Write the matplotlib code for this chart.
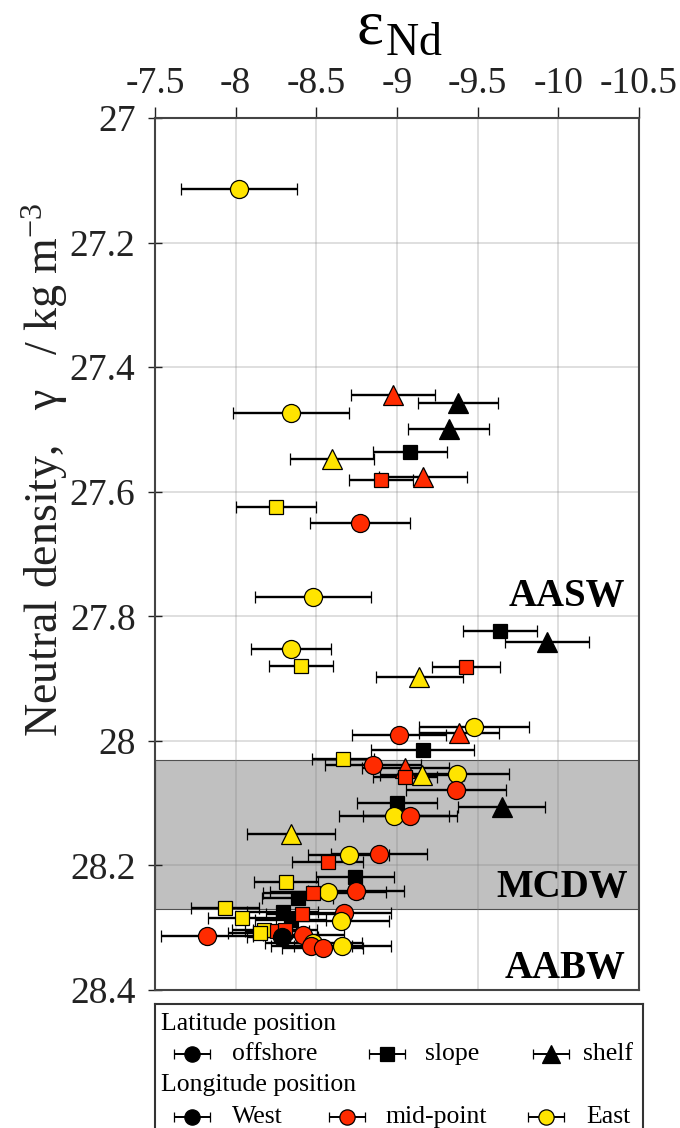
import matplotlib
matplotlib.use("Agg")
import matplotlib.pyplot as plt
import numpy as np

plt.rcParams['font.family'] = ['Liberation Serif', 'DejaVu Serif']
plt.rcParams['mathtext.fontset'] = 'custom'
plt.rcParams['mathtext.rm'] = 'Liberation Serif'
plt.rcParams['mathtext.it'] = 'Liberation Serif:italic'
plt.rcParams['axes.unicode_minus'] = False

# Nd isotope composition, its 2-sigma uncertainty and neutral density of each sample
eps_nd = [-8.02, -8.975, -9.378, -8.343, -9.32, -9.08, -8.597, -8.90, -9.161,
          -8.25, -8.771, -8.479, -9.638, -9.93, -8.343, -8.405, -9.43, -9.137,
          -9.477, -9.384, -9.012, -9.16, -8.666, -8.851, -9.05, -9.05, -9.155,
          -9.372, -9.366, -9.0, -9.65, -8.98, -9.08, -8.343, -8.888, -8.70,
          -8.572, -8.74, -8.312, -8.746, -8.572, -8.48, -8.386, -7.934, -8.293,
          -8.34, -8.41, -8.67, -8.04, -8.653, -7.822, -8.175, -8.15, -8.256,
          -8.306, -8.29, -8.42, -8.48, -8.47, -8.54, -8.66]
eps_err = [0.36, 0.26, 0.25, 0.36, 0.25, 0.23, 0.26, 0.20, 0.27,
           0.25, 0.31, 0.36, 0.23, 0.26, 0.25, 0.20, 0.21, 0.27,
           0.34, 0.25, 0.29, 0.32, 0.19, 0.30, 0.27, 0.20, 0.26,
           0.32, 0.31, 0.25, 0.27, 0.34, 0.29, 0.27, 0.30, 0.25,
           0.22, 0.24, 0.20, 0.30, 0.36, 0.31, 0.22, 0.21, 0.22,
           0.22, 0.22, 0.29, 0.21, 0.30, 0.285, 0.20, 0.20, 0.20,
           0.20, 0.22, 0.25, 0.30, 0.25, 0.25, 0.30]
gamma_n = [27.114, 27.445, 27.457, 27.474, 27.500, 27.536, 27.547, 27.581, 27.577,
           27.624, 27.650, 27.769, 27.823, 27.841, 27.852, 27.880, 27.881, 27.897,
           27.978, 27.987, 27.990, 28.014, 28.029, 28.039, 28.043, 28.058, 28.055,
           28.053, 28.079, 28.100, 28.106, 28.120, 28.120, 28.150, 28.181, 28.184,
           28.194, 28.218, 28.226, 28.241, 28.242, 28.245, 28.252, 28.268, 28.274,
           28.288, 28.278, 28.276, 28.284, 28.289, 28.313, 28.303, 28.308, 28.306,
           28.303, 28.315, 28.312, 28.324, 28.330, 28.332, 28.329]
lat_pos = ['offshore', 'shelf', 'shelf', 'offshore', 'shelf', 'slope', 'shelf', 'slope', 'shelf',
           'slope', 'offshore', 'offshore', 'slope', 'shelf', 'offshore', 'slope', 'slope', 'shelf',
           'offshore', 'shelf', 'offshore', 'slope', 'slope', 'offshore', 'shelf', 'slope', 'shelf',
           'offshore', 'offshore', 'slope', 'shelf', 'offshore', 'offshore', 'shelf', 'offshore', 'offshore',
           'slope', 'slope', 'slope', 'offshore', 'offshore', 'slope', 'slope', 'slope', 'slope',
           'slope', 'slope', 'offshore', 'slope', 'offshore', 'offshore', 'slope', 'slope', 'slope',
           'slope', 'offshore', 'offshore', 'offshore', 'offshore', 'offshore', 'offshore']
lon_pos = ['East', 'mid', 'West', 'East', 'West', 'West', 'East', 'mid', 'mid',
           'East', 'mid', 'East', 'West', 'West', 'East', 'East', 'mid', 'East',
           'East', 'mid', 'mid', 'West', 'East', 'mid', 'mid', 'mid', 'East',
           'East', 'mid', 'West', 'West', 'East', 'mid', 'East', 'mid', 'East',
           'mid', 'West', 'East', 'mid', 'East', 'mid', 'West', 'East', 'West',
           'West', 'mid', 'mid', 'East', 'East', 'mid', 'East', 'East', 'mid',
           'mid', 'West', 'mid', 'East', 'mid', 'mid', 'East']

water_masses = ['AASW', 'MCDW', 'AABW']
mcdw_range = (28.03, 28.27)

x_ticks = [-7.5, -8, -8.5, -9, -9.5, -10, -10.5]
y_ticks = [27, 27.2, 27.4, 27.6, 27.8, 28, 28.2, 28.4]

marker_of = {'offshore': 'o', 'slope': 's', 'shelf': '^'}
size_of = {'offshore': 13, 'slope': 10.5, 'shelf': 14.5}
color_of = {'West': '#000000', 'mid': '#ff2b00', 'East': '#ffe400'}

fig = plt.figure(figsize=(6.8, 11.28), dpi=100)
ax = fig.add_axes([155 / 680, 1 - 990 / 1128, 484 / 680, 872 / 1128])

ax.axhspan(*mcdw_range, facecolor='#c0c0c0', edgecolor='#505050', lw=0.8, zorder=0)

for x, xe, y, la, lo in zip(eps_nd, eps_err, gamma_n, lat_pos, lon_pos):
    ax.errorbar(x, y, xerr=xe, fmt=marker_of[la], ms=size_of[la],
                mfc=color_of[lo], mec='black', mew=0.9,
                ecolor='black', elinewidth=1.7, capsize=4, capthick=1.7, zorder=3)

ax.set_xlim(-7.5, -10.5)
ax.set_ylim(28.4, 27)
ax.set_xticks(x_ticks)
ax.set_xticklabels([f'{v:g}' for v in x_ticks])
ax.set_yticks(y_ticks)
ax.set_yticklabels([f'{v:g}' for v in y_ticks])
ax.xaxis.tick_top()
ax.tick_params(axis='x', direction='out', length=8, width=1, pad=4,
               labelsize=27, colors='#222222')
ax.tick_params(axis='y', direction='inout', length=10, width=1, pad=9,
               labelsize=27, colors='#222222')
ax.set_axisbelow(True)
ax.grid(True, color='#808080', alpha=0.28, lw=1.3)
for s in ax.spines.values():
    s.set_color('#444444')
    s.set_linewidth(1.5)

ax.text(-10.415, 27.768, water_masses[0], ha='right', va='center',
        fontsize=28, fontweight='bold', zorder=4)
ax.text(-10.43, 28.236, water_masses[1], ha='right', va='center',
        fontsize=28, fontweight='bold', zorder=4)
ax.text(-10.415, 28.365, water_masses[2], ha='right', va='center',
        fontsize=28, fontweight='bold', zorder=4)

# axis titles
fig.text(370 / 680, 1 - 29 / 1128, r'$\mathrm{ε}$', ha='center', va='center', fontsize=46)
fig.text(414 / 680, 1 - 55 / 1128, r'$\mathrm{Nd}$', ha='center', va='baseline', fontsize=33)
fig.text(45 / 680, 1 - 470 / 1128, 'Neutral density,   γ   / kg m$^{-3}$',
         rotation=90, ha='center', va='center', fontsize=33, color='#222222')

# key box below the plot
lax = fig.add_axes([155 / 680, -3 / 1128, 488 / 680, 127 / 1128])
lax.set_xlim(0, 488)
lax.set_ylim(127, 0)
lax.set_xticks([])
lax.set_yticks([])
for s in lax.spines.values():
    s.set_color('#333333')
    s.set_linewidth(1.5)

lax.text(6, 20, 'Latitude position', va='center', fontsize=18.5)
lax.text(6, 81, 'Longitude position', va='center', fontsize=18.5)

key_rows = [
    (50, [(37, 'o', 11, 'black', 'offshore', 40), (232, 's', 9.5, 'black', 'slope', 38),
          (396, '^', 13.5, 'black', 'shelf', 32)]),
    (113, [(37, 'o', 11, 'black', 'West', 40), (192, 'o', 11, color_of['mid'], 'mid-point', 38),
           (391, 'o', 11, color_of['East'], 'East', 40)]),
]
for ky, entries in key_rows:
    for kx, mk, ms, fc, lab, dx in entries:
        lax.errorbar(kx, ky, xerr=18, fmt=mk, ms=ms, mfc=fc, mec='black', mew=0.9,
                     ecolor='black', elinewidth=1.4, capsize=3.5, capthick=1.4)
        lax.text(kx + dx, ky, lab, va='center', fontsize=18.5)

fig.savefig('out.png', dpi=100)
